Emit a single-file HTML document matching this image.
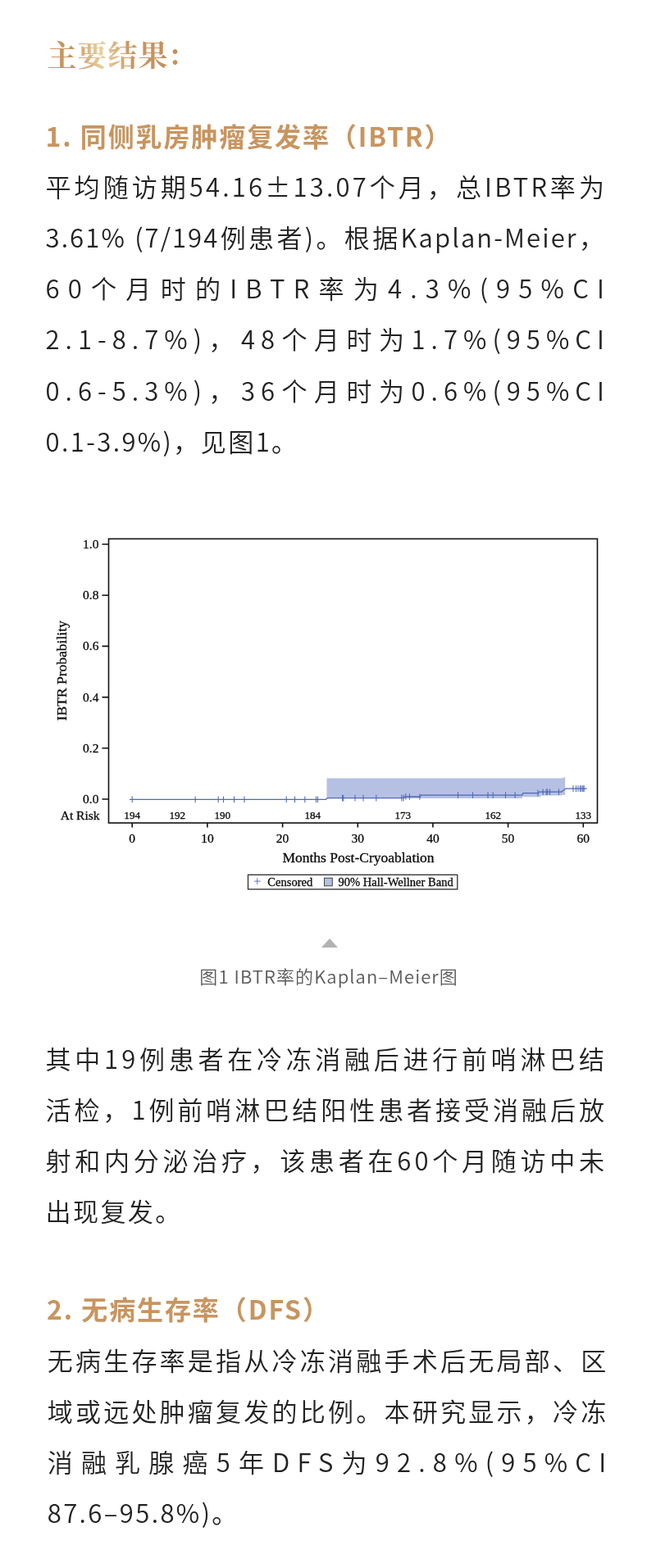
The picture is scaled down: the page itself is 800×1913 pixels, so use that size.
<!DOCTYPE html>
<html lang="zh-CN">
<head>
<meta charset="utf-8">
<title>主要结果</title>
<style>
html,body{margin:0;padding:0;background:#fff;}
figure,section{margin:0;padding:0;}
body{width:800px;height:1913px;position:relative;overflow:hidden;font-family:"Noto Sans CJK SC","Liberation Sans",sans-serif;color:#222;}
.j{text-align:justify;text-align-last:justify;}
.l{position:absolute;left:55.5px;margin:0;white-space:nowrap;font-size:31.068px;line-height:62.136px;height:62.136px;font-weight:350;letter-spacing:2.400px;}
h1{position:absolute;left:57.4px;top:40.5px;margin:0;font-family:"Noto Serif CJK SC","Liberation Serif",serif;font-weight:700;font-size:36px;line-height:50px;letter-spacing:1px;white-space:nowrap;
 background:linear-gradient(82deg,#c9955f 0%,#c9955f 20%,#e8d2a4 43%,#cb9862 62%,#c48a55 100%);-webkit-background-clip:text;background-clip:text;color:transparent;-webkit-text-fill-color:transparent;}
h2{position:absolute;left:55.5px;margin:0;font-weight:700;font-size:32px;line-height:62.136px;letter-spacing:1.9px;color:#c8955f;white-space:nowrap;}
.cap{position:absolute;left:243.3px;margin:0;font-weight:350;font-size:22px;line-height:30px;color:#5a5a5a;letter-spacing:1.1px;white-space:nowrap;}
.tri{position:absolute;left:392px;top:1145px;width:0;height:0;border-left:10px solid transparent;border-right:10px solid transparent;border-bottom:11px solid #b2b2b2;}
#chart{position:absolute;left:0;top:0;}
#chart text{font-family:"Liberation Serif",serif;fill:#0a0a0a;stroke:#0a0a0a;stroke-width:0.3px;stroke-linejoin:round;}
</style>
</head>
<body>
<h1>主要结果<span style="position:relative;left:2.2px;top:-1.5px;color:#c6905b;-webkit-text-fill-color:#c6905b">:</span></h1>
<h2 style="top:133.5px">1. 同侧乳房肿瘤复发率（IBTR）</h2>
<section>
<p class="l j" style="top:196.00px;letter-spacing:3.184px;width:684.68px">平均随访期54.16±13.07个月，总IBTR率为</p>
<p class="l j" style="top:258.14px;letter-spacing:2.104px;width:683.60px">3.61% (7/194例患者)。根据Kaplan-Meier，</p>
<p class="l j" style="top:320.27px;letter-spacing:10.206px;width:691.71px">60个月时的IBTR率为4.3%(95%CI</p>
<p class="l j" style="top:382.41px;letter-spacing:7.033px;width:688.53px">2.1-8.7%)，48个月时为1.7%(95%CI</p>
<p class="l j" style="top:444.54px;letter-spacing:7.033px;width:688.53px">0.6-5.3%)，36个月时为0.6%(95%CI</p>
<p class="l" style="top:506.68px">0.1-3.9%)，见图1。</p>
</section>
<figure>
<svg id="chart" width="688" height="470" viewBox="56 640 688 470" style="left:56px;top:640px">
<g>
<polygon points="398.5,949.4 686.2,949.4 686.2,948.5 689.2,948.5 689.2,969.8 685.0,969.8 685.0,970.6 659.4,970.6 659.4,972.3 637.0,972.3 637.0,974.1 398.5,974.1" fill="#b5c0e3"/>
<path d="M158.0 975.4 L397.5 975.4 L399.0 973.6 L492.6 973.6 L493.4 972.0 L512.6 972.0 L513.4 970.1 L636.5 970.1 L638.0 967.6 L656.5 967.6 L657.3 966.2 L684.5 966.2 L690.0 962.1 L715.6 962.1" fill="none" stroke="#4f67b8" stroke-width="1.3" stroke-linejoin="round"/>
<path d="M161.2 971.6V979.2M238.2 971.6V979.2M266.2 971.6V979.2M272.5 971.6V979.2M285.5 971.6V979.2M298.0 971.6V979.2M349.2 971.6V979.2M359.5 971.6V979.2M371.8 971.6V979.2M385.5 971.6V979.2M387.5 971.6V979.2M417.5 969.8V977.4M418.8 969.8V977.4M433.0 969.8V977.4M443.0 969.8V977.4M458.8 969.8V977.4M489.8 969.8V977.4M492.0 969.8V977.4M494.8 968.2V975.8M499.4 968.2V975.8M511.9 968.2V975.8M558.5 966.3V973.9M576.5 966.3V973.9M595.0 966.3V973.9M601.2 966.3V973.9M616.5 966.3V973.9M628.1 966.3V973.9M656.0 963.8V971.4M662.2 962.4V970.0M666.2 962.4V970.0M667.8 962.4V970.0M670.6 962.4V970.0M681.5 962.4V970.0M699.0 958.3V965.9M702.5 958.3V965.9M705.0 958.3V965.9M707.5 958.3V965.9M709.1 958.3V965.9M710.9 958.3V965.9M712.2 958.3V965.9M158.0 975.4H164.0" fill="none" stroke="#4f67b8" stroke-width="1.05"/>
<rect x="132.5" y="657.4" width="596.0" height="346.6" fill="none" stroke="#111" stroke-width="1.6"/>
<path d="M124.5 975.0H132.5M124.5 912.8H132.5M124.5 850.6H132.5M124.5 788.4H132.5M124.5 726.2H132.5M124.5 664.0H132.5M161.2 1004.0V1009.5M252.9 1004.0V1009.5M344.6 1004.0V1009.5M436.3 1004.0V1009.5M527.9 1004.0V1009.5M619.6 1004.0V1009.5M711.3 1004.0V1009.5" fill="none" stroke="#111" stroke-width="1.6"/>
<g font-size="15.5" text-anchor="end">
<text x="120.4" y="980.0">0.0</text>
<text x="120.4" y="917.8">0.2</text>
<text x="120.4" y="855.6">0.4</text>
<text x="120.4" y="793.4">0.6</text>
<text x="120.4" y="731.2">0.8</text>
<text x="120.4" y="669.0">1.0</text>
</g>
<g font-size="15.5" text-anchor="middle">
<text x="161.2" y="1027.5">0</text>
<text x="252.9" y="1027.5">10</text>
<text x="344.6" y="1027.5">20</text>
<text x="436.3" y="1027.5">30</text>
<text x="527.9" y="1027.5">40</text>
<text x="619.6" y="1027.5">50</text>
<text x="711.3" y="1027.5">60</text>
</g>
<g font-size="13.2" text-anchor="middle" style="stroke-width:0.15px">
<text x="161.2" y="999.3">194</text>
<text x="216.3" y="999.3">192</text>
<text x="271.3" y="999.3">190</text>
<text x="381.3" y="999.3">184</text>
<text x="491.3" y="999.3">173</text>
<text x="601.3" y="999.3">162</text>
<text x="711.3" y="999.3">133</text>
</g>
<text x="121.5" y="1000.0" font-size="15.5" text-anchor="end">At Risk</text>
<text x="437.0" y="1051.7" font-size="17.5" text-anchor="middle">Months Post-Cryoablation</text>
<text transform="translate(81.2 818.2) rotate(-90)" font-size="17.5" text-anchor="middle">IBTR Probability</text>
<rect x="302.5" y="1067.3" width="255.3" height="17.6" fill="#fff" stroke="#3a3a3a" stroke-width="1.4"/>
<path d="M309.8 1075.1h8M313.8 1071.1v8" fill="none" stroke="#4f67b8" stroke-width="0.9"/>
<rect x="395.5" y="1071.2" width="9.8" height="9.6" fill="#b5c0e3" stroke="#444" stroke-width="1"/>
<text x="326.3" y="1081.0" font-size="14.55">Censored</text>
<text x="412.5" y="1081.0" font-size="14.55">90% Hall-Wellner Band</text>
</g></svg>
<div class="tri"></div>
<figcaption class="cap" style="top:1174.8px">图1 IBTR率的Kaplan–Meier图</figcaption>
</figure>
<section>
<p class="l j" style="top:1260.00px;letter-spacing:4.261px;width:685.76px">其中19例患者在冷冻消融后进行前哨淋巴结</p>
<p class="l j" style="top:1322.14px;letter-spacing:3.524px;width:685.02px">活检，1例前哨淋巴结阳性患者接受消融后放</p>
<p class="l j" style="top:1384.27px;letter-spacing:4.261px;width:685.76px">射和内分泌治疗，该患者在60个月随访中未</p>
<p class="l" style="top:1446.41px">出现复发。</p>
</section>
<h2 style="top:1564.5px;left:57px">2. 无病生存率（DFS）</h2>
<section>
<p class="l j" style="top:1628.00px;left:57.70px;letter-spacing:2.788px;width:684.29px">无病生存率是指从冷冻消融手术后无局部、区</p>
<p class="l j" style="top:1690.14px;left:57.70px;letter-spacing:2.788px;width:684.29px">域或远处肿瘤复发的比例。本研究显示，冷冻</p>
<p class="l j" style="top:1752.27px;left:57.70px;letter-spacing:9.222px;width:690.72px">消融乳腺癌5年DFS为92.8%(95%CI</p>
<p class="l" style="top:1814.41px;left:57.70px">87.6–95.8%)。</p>
</section>
</body>
</html>
